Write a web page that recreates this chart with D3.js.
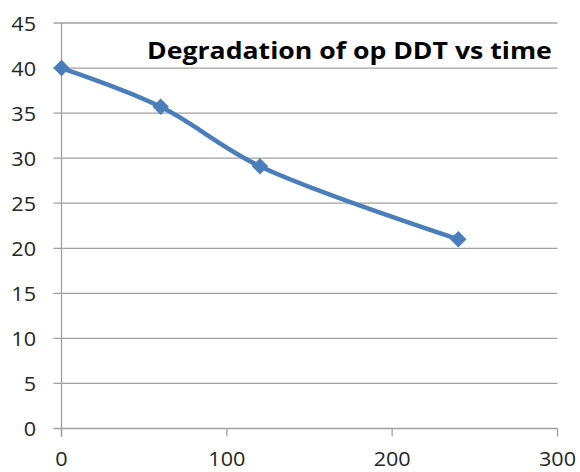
<!DOCTYPE html>
<html>
<head>
<meta charset="utf-8">
<script src="https://cdn.jsdelivr.net/npm/d3@7"></script>
<style>
    body { margin: 0; background: #fff; }
    svg { display: block; }
    .tick-label { font-family: "Open Sans", "DejaVu Sans", sans-serif; font-size: 20px; fill: #262626; }
    .title { font-family: "Open Sans", "DejaVu Sans", sans-serif; font-size: 23px; font-weight: bold; fill: #000; }
</style>
</head>
<body>
<div id="chart"></div>
<script>
(function (d3) {
    'use strict';

    // data
    var times = [0, 60, 120, 240];
    var ddt = [40, 35.7, 29.1, 21];
    var xTicks = [0, 100, 200, 300];
    var yTicks = [0, 5, 10, 15, 20, 25, 30, 35, 40, 45];
    var title = 'Degradation of op DDT vs time';

    var width = 580, height = 472;
    var margin = {top: 23, right: 22.5, bottom: 43.5, left: 61.5};
    var blue = '#4a7ebb';
    var grey = '#a0a0a0';

    var svg = d3.select('#chart').append('svg')
        .attr('width', width)
        .attr('height', height)
    ;

    var x = d3.scaleLinear().domain([0, 300]).range([margin.left, width - margin.right]);
    var y = d3.scaleLinear().domain([0, 45]).range([height - margin.bottom, margin.top]);

    // Horizontal gridlines (they stick out left as ticks).
    svg.append('g')
        .selectAll('line')
        .data(yTicks)
        .join('line')
        .attr('x1', x(0) - 8)
        .attr('x2', x(300))
        .attr('y1', function (d) { return y(d); })
        .attr('y2', function (d) { return y(d); })
        .attr('stroke', grey)
        .attr('stroke-width', 1.3)
    ;

    // Vertical axis line.
    svg.append('line')
        .attr('x1', x(0)).attr('x2', x(0))
        .attr('y1', y(45)).attr('y2', y(0) + 8)
        .attr('stroke', grey)
        .attr('stroke-width', 1.3)
    ;

    // Bottom ticks.
    svg.append('g')
        .selectAll('line')
        .data(xTicks)
        .join('line')
        .attr('x1', function (d) { return x(d); })
        .attr('x2', function (d) { return x(d); })
        .attr('y1', y(0))
        .attr('y2', y(0) + 8)
        .attr('stroke', grey)
        .attr('stroke-width', 1.3)
    ;

    // Y labels, text stretched a bit wider like the picture.
    svg.append('g')
        .selectAll('text')
        .data(yTicks)
        .join('text')
        .attr('class', 'tick-label')
        .attr('text-anchor', 'end')
        .attr('dominant-baseline', 'central')
        .attr('transform', function (d) { return translate(36, y(d)) + ' scale(1.08,1)'; })
        .text(function (d) { return d; })
    ;

    svg.append('g')
        .selectAll('text')
        .data(xTicks)
        .join('text')
        .attr('class', 'tick-label')
        .attr('text-anchor', 'middle')
        .attr('transform', function (d) { return translate(x(d), 466) + ' scale(1.08,1)'; })
        .text(function (d) { return d; })
    ;

    // Smoothed series line.
    var line = d3.line()
        .x(function (d) { return x(d[0]); })
        .y(function (d) { return y(d[1]); })
        .curve(d3.curveCatmullRom.alpha(0.5))
    ;

    var points = d3.zip(times, ddt);

    svg.append('path')
        .datum(points)
        .attr('d', line)
        .attr('fill', 'none')
        .attr('stroke', blue)
        .attr('stroke-width', 4.5)
    ;

    svg.append('g')
        .selectAll('path')
        .data(points)
        .join('path')
        .attr('d', d3.symbol(d3.symbolSquare, 135))
        .attr('transform', function (d) { return translate(x(d[0]), y(d[1])) + ' rotate(45)'; })
        .attr('fill', blue)
    ;

    // Title, fitted between 147 and 552.
    var t = svg.append('text')
        .attr('class', 'title')
        .attr('x', 0)
        .attr('y', 0)
        .text(title)
    ;
    var w = t.node().getComputedTextLength();
    t.attr('transform', translate(147, 59) + ' scale(' + (405 / w) + ',1)');

    function translate(a, b) {
        return 'translate(' + a + ',' + b + ')';
    }
})(d3);
</script>
</body>
</html>
